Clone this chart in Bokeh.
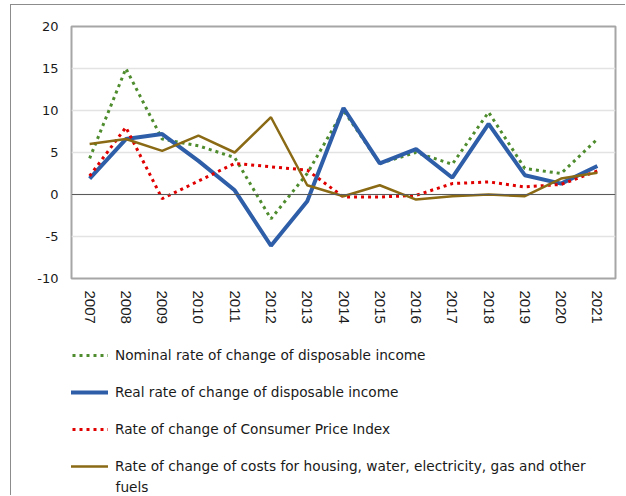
from bokeh.plotting import figure
from bokeh.layouts import column
from bokeh.models import Legend, LegendItem, Span, FixedTicker, Range1d, Label
from bokeh.embed import file_html
from bokeh.resources import INLINE

years = [str(y) for y in range(2007, 2022)]
nominal = [4.3, 15.0, 6.6, 5.8, 4.4, -2.9, 2.5, 10.0, 3.7, 5.0, 3.6, 9.8, 3.1, 2.5, 6.6]
real = [1.9, 6.6, 7.2, 4.0, 0.5, -6.1, -0.8, 10.3, 3.7, 5.4, 2.0, 8.4, 2.3, 1.3, 3.4]
cpi = [2.2, 8.0, -0.5, 1.6, 3.7, 3.3, 2.9, -0.3, -0.3, -0.1, 1.3, 1.5, 0.9, 1.2, 2.8]
housing = [6.0, 6.6, 5.2, 7.0, 5.0, 9.2, 1.1, -0.2, 1.1, -0.6, -0.2, 0.0, -0.2, 1.9, 2.6]
y_ticks = [-10, -5, 0, 5, 10, 15, 20]

labels = [
    "Nominal rate of change of disposable income",
    "Real rate of change of disposable income",
    "Rate of change of Consumer Price Index",
    "Rate of change of costs for housing, water, electricity, gas and other",
]
label_wrap = "fuels"
styles = [
    dict(line_color="#4e8c2e", line_width=3, line_dash="3 4"),
    dict(line_color="#2f5ea8", line_width=4),
    dict(line_color="#e00000", line_width=3, line_dash="3 4"),
    dict(line_color="#8a6a14", line_width=2.5),
]

p = figure(x_range=years, y_range=Range1d(-10, 20), width=614, height=329,
           output_backend="svg", toolbar_location=None,
           min_border_left=60, min_border_right=10, min_border_top=21,
           min_border_bottom=56)

p.outline_line_color = "#a6a6a6"
p.outline_line_width = 2
p.xgrid.grid_line_color = None
p.ygrid.grid_line_color = "#e3e3e3"
p.ygrid.grid_line_width = 1.5
p.yaxis.ticker = FixedTicker(ticks=y_ticks)
p.yaxis.major_label_overrides = {t: str(t) for t in y_ticks}

for ax in (p.xaxis[0], p.yaxis[0]):
    ax.axis_line_color = None
    ax.major_tick_line_color = None
    ax.minor_tick_line_color = None
    ax.major_tick_out = 0
    ax.major_tick_in = 0
    ax.minor_tick_out = 0
    ax.major_label_text_color = "#1a1a1a"

p.yaxis.major_label_text_font = "DejaVu Sans"
p.yaxis.major_label_text_font_size = "13px"
p.yaxis.major_label_standoff = 13
p.xaxis.major_label_text_font = "Liberation Sans"
p.xaxis.major_label_text_font_size = "15px"
p.xaxis.major_label_orientation = "vertical"
p.xaxis.major_label_standoff = 12

p.add_layout(Span(location=0, dimension="width", line_color="#5a5a5a", line_width=1))

series = [nominal, real, cpi, housing]
for vals, st in zip(series, styles):
    p.line(years, vals, **st)

# legend panel (frame is aligned with the chart frame by the column layout)
q = figure(width=614, height=161, x_range=Range1d(0, 543), y_range=Range1d(0, 161),
           output_backend="svg", toolbar_location=None,
           x_axis_location=None, y_axis_location=None,
           min_border=0, min_border_left=0, min_border_right=0,
           min_border_top=0, min_border_bottom=0)
q.outline_line_color = None
q.grid.grid_line_color = None
# legend-only renderers placed outside the visible range
dummy = [q.line([-20, -10], [-20, -10], **st) for st in styles]

legend = Legend(
    items=[LegendItem(label=l, renderers=[r]) for l, r in zip(labels, dummy)],
    location=(-6, 19),
    glyph_width=43, glyph_height=20, label_height=20, label_standoff=7,
    spacing=17, padding=0, margin=0,
    border_line_color=None, background_fill_alpha=0,
    label_text_font="DejaVu Sans", label_text_font_size="13.7px",
    label_text_color="#1a1a1a",
)
q.add_layout(legend, "center")
q.add_layout(Label(x=44, y=8.5, text=label_wrap, text_font="DejaVu Sans",
                   text_font_size="13.7px", text_color="#1a1a1a",
                   text_baseline="middle", text_align="left"))

layout = column(p, q, spacing=0,
                styles={"border-left": "1.5px solid #8c8c8c",
                        "border-top": "1.5px solid #8c8c8c",
                        "margin-top": "4px", "margin-left": "10px"})

open("out.html", "w").write(file_html(layout, INLINE))
